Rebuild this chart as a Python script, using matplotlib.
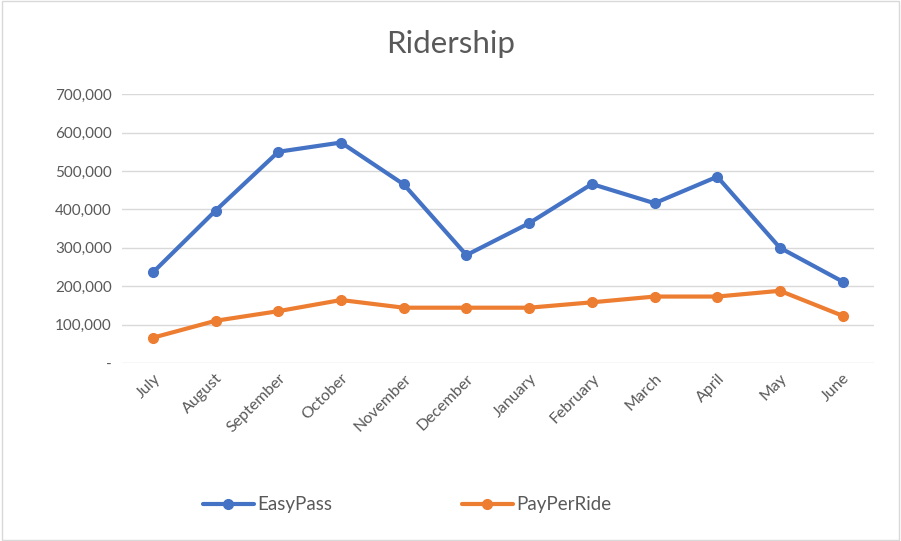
import matplotlib.pyplot as plt
from matplotlib.ticker import FuncFormatter
from matplotlib.patches import Rectangle

plt.rcParams['font.family'] = ['Lato', 'DejaVu Sans']

months = ["July", "August", "September", "October", "November", "December",
          "January", "February", "March", "April", "May", "June"]
easypass = [236000, 397000, 550000, 574000, 465000, 281000,
            364000, 466000, 416000, 485000, 300000, 212000]
payperride = [66000, 110000, 135000, 164000, 144000, 144000,
              144000, 158000, 173000, 173000, 188000, 123000]

fig = plt.figure(figsize=(9.01, 5.41), dpi=100)
ax = fig.add_axes([0.135, 0.329, 0.835, 0.497])

x = range(len(months))
ax.plot(x, easypass, color="#4472C4", lw=3, marker="o", ms=7, label="EasyPass",
        solid_capstyle="round", zorder=3)
ax.plot(x, payperride, color="#ED7D31", lw=3, marker="o", ms=7, label="PayPerRide",
        solid_capstyle="round", zorder=3)

ax.set_xlim(-0.5, len(months) - 0.5)
ax.set_ylim(0, 700000)
ax.set_yticks(range(0, 700001, 100000))
ax.yaxis.set_major_formatter(FuncFormatter(lambda v, p: "-" if v == 0 else f"{int(v):,}"))
ax.grid(axis="y", color="#D9D9D9", lw=1)
ax.set_axisbelow(True)
for s in ax.spines.values():
    s.set_visible(False)
ax.tick_params(length=0, colors="#595959")
ax.tick_params(axis="y", pad=7, labelsize=11)
ax.tick_params(axis="x", pad=6, labelsize=11.5)
ax.set_xticks(list(x))
ax.set_xticklabels(months, rotation=45, ha="right", rotation_mode="anchor")

fig.text(0.5, 0.918, "Ridership", ha="center", va="center", fontsize=22.5, color="#595959")

leg = fig.legend(loc="center", bbox_to_anchor=(0.452, 0.067), ncol=2, frameon=False,
                 fontsize=13.5, labelcolor="#595959", handlelength=2.7, columnspacing=6.9,
                 handletextpad=0.2)

fig.patches.append(Rectangle((0.002, 0.002), 0.996, 0.996, transform=fig.transFigure,
                             fill=False, edgecolor="#D9D9D9", lw=1))

fig.savefig("out.png", dpi=100)
